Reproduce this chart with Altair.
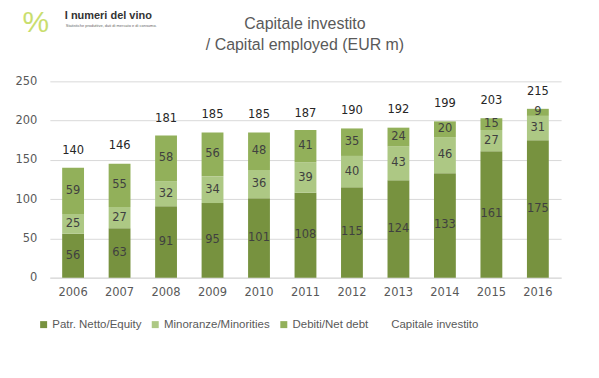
import altair as alt
import pandas as pd

years = ["2006", "2007", "2008", "2009", "2010", "2011", "2012", "2013", "2014", "2015", "2016"]
equity = [56, 63, 91, 95, 101, 108, 115, 124, 133, 161, 175]
minorities = [25, 27, 32, 34, 36, 39, 40, 43, 46, 27, 31]
debt = [59, 55, 58, 56, 48, 41, 35, 24, 20, 15, 9]
totals = [140, 146, 181, 185, 185, 187, 190, 192, 199, 203, 215]
y_ticks = [0, 50, 100, 150, 200, 250]

series_names = ["Patr. Netto/Equity", "Minoranze/Minorities", "Debiti/Net debt", "Capitale investito"]
colors = ["#77923F", "#ADC884", "#92B05A", "transparent"]
title_lines = ["Capitale investito", "/ Capital employed (EUR m)"]

rows = []
for i, y in enumerate(years):
    for k, (name, vals) in enumerate(zip(series_names[:3], [equity, minorities, debt])):
        rows.append({"year": y, "series": name, "value": vals[i], "ord": k})
df = pd.DataFrame(rows)
df_tot = pd.DataFrame({"year": years, "total": totals})

FONT = "DejaVu Sans"
LFONT = "Liberation Sans"
GREY = "#595959"

x_axis = alt.Axis(labelAngle=0, ticks=False, domain=True, domainColor="#D9D9D9",
                  labelPadding=9, labelFont=FONT, labelFontSize=11.5, labelColor=GREY)
y_axis = alt.Axis(values=y_ticks, grid=True, gridColor="#D9D9D9", labelOverlap=False,
                  domain=False, ticks=False, labelPadding=13, labelFont=FONT,
                  labelFontSize=11.5, labelColor=GREY)
x_scale = alt.Scale(paddingInner=0.53, paddingOuter=0.265)
y_scale = alt.Scale(domain=[0, 250], nice=False)

bars = alt.Chart(df).mark_bar().encode(
    x=alt.X("year:N", title=None, scale=x_scale, axis=x_axis),
    y=alt.Y("value:Q", stack="zero", title=None, scale=y_scale, axis=y_axis),
    color=alt.Color("series:N", title=None,
                    scale=alt.Scale(domain=series_names, range=colors),
                    legend=alt.Legend(orient="none", legendX=-12, legendY=238, direction="horizontal",
                                      symbolType="square", symbolSize=49, symbolStrokeWidth=0,
                                      labelFont=LFONT, labelFontSize=11.5, labelColor=GREY,
                                      labelOffset=3, columnPadding=8)),
    order=alt.Order("ord:Q"),
)

seg_labels = alt.Chart(df).transform_window(
    cum="sum(value)", groupby=["year"], sort=[alt.SortField("ord")], frame=[None, 0]
).transform_calculate(
    mid="datum.cum - datum.value / 2"
).mark_text(font=FONT, fontSize=11.5, color="#404040", baseline="middle").encode(
    x=alt.X("year:N", title=None, scale=x_scale, axis=x_axis),
    y=alt.Y("mid:Q", title=None, scale=y_scale, axis=y_axis),
    text=alt.Text("value:Q"),
)

tot_labels = alt.Chart(df_tot).mark_text(font=FONT, fontSize=11.5, color="#262626",
                                         baseline="middle", dy=-17).encode(
    x=alt.X("year:N", title=None, scale=x_scale, axis=x_axis),
    y=alt.Y("total:Q", title=None, scale=y_scale, axis=y_axis),
    text=alt.Text("total:Q"),
)

title1 = alt.Chart(pd.DataFrame({"t": [title_lines[0]]})).mark_text(
    font=LFONT, fontSize=16, color=GREY, align="center", baseline="middle"
).encode(text="t:N", x=alt.value(256), y=alt.value(-58))

title2 = alt.Chart(pd.DataFrame({"t": [title_lines[1]]})).mark_text(
    font=LFONT, fontSize=16, color=GREY, align="center", baseline="middle"
).encode(text="t:N", x=alt.value(256), y=alt.value(-36))

logo_pct = alt.Chart(pd.DataFrame({"t": ["%"]})).mark_text(
    font=LFONT, fontSize=30, color="#C9DE6E", align="center", baseline="middle"
).encode(text="t:N", x=alt.value(-14), y=alt.value(-58))

logo_title = alt.Chart(pd.DataFrame({"t": ["I numeri del vino"]})).mark_text(
    font=LFONT, fontSize=11, color="#333333", fontWeight="bold", align="left", baseline="middle"
).encode(text="t:N", x=alt.value(15), y=alt.value(-66))

logo_sub = alt.Chart(pd.DataFrame({"t": ["Statistiche produttive, dati di mercato e di consumo."]})).mark_text(
    font=LFONT, fontSize=4, color="#666666", align="left", baseline="middle"
).encode(text="t:N", x=alt.value(16), y=alt.value(-56))

chart = alt.layer(bars, seg_labels, tot_labels, title1, title2, logo_pct, logo_title, logo_sub).properties(
    width=513, height=197,
    autosize=alt.AutoSizeParams(type="none"),
    padding={"left": 42, "top": 73, "right": 30, "bottom": 70},
).configure_view(stroke=None)

chart.save("out.html", embed_options={"renderer": "svg", "actions": False})
